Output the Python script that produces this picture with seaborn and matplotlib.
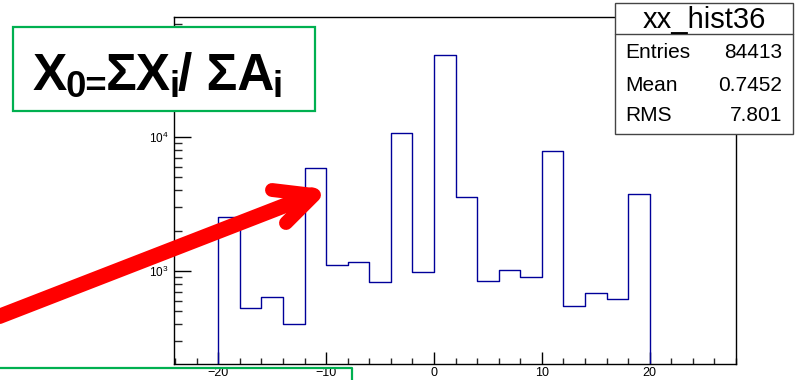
import numpy as np
import pandas as pd
import matplotlib
matplotlib.use("Agg")
import matplotlib.pyplot as plt
import seaborn as sns
from matplotlib.lines import Line2D
from matplotlib.patches import Rectangle
from matplotlib.ticker import MultipleLocator, LogLocator, NullFormatter

# ---- data -------------------------------------------------------------
bin_edges = [-20, -18, -16, -14, -12, -10, -8, -6, -4, -2, 0,
             2, 4, 6, 8, 10, 12, 14, 16, 18, 20]
bin_counts = [2540, 527, 637, 402, 5870, 1103, 1161, 832, 10700, 989,
              40900, 3550, 847, 1012, 897, 7820, 545, 682, 615, 3780]
hist_name = "xx_hist36"
stat_labels = ["Entries", "Mean", "RMS"]
stat_values = ["84413", "0.7452", "7.801"]
formula_parts = ["X", "0=", "\u03a3X", "i", "/ \u03a3A", "i"]
formula_is_sub = [False, True, False, True, False, True]

# ---- style ------------------------------------------------------------
sns.set_theme(style="white")
plt.rcParams["font.family"] = ["Liberation Sans", "DejaVu Sans"]

W, H = 796, 380
fx = lambda x: x / W
fy = lambda y: 1 - y / H

fig = plt.figure(figsize=(W / 100, H / 100), dpi=100)
fig.patch.set_facecolor("white")
ax = fig.add_axes([fx(174), fy(364), (736 - 174) / W, (364 - 17) / H])

centers = [(a + b) / 2 for a, b in zip(bin_edges[:-1], bin_edges[1:])]
df = pd.DataFrame({"x": centers, "n": bin_counts})
hist_color = "#000099"
sns.histplot(data=df, x="x", weights="n", bins=bin_edges, element="step",
             fill=False, color=hist_color, linewidth=1.0, ax=ax)
# outer vertical edges of the histogram outline
ax.vlines([bin_edges[0], bin_edges[-1]], 1, [bin_counts[0], bin_counts[-1]],
          color=hist_color, linewidth=1.0)
ax.set_yscale("log")
ax.set_xlim(-24.1, 28)
ax.set_ylim(202, 78700)
ax.set_xlabel("")
ax.set_ylabel("")

for s in ax.spines.values():
    s.set_color("black")
    s.set_linewidth(1.0)

ax.xaxis.set_major_locator(MultipleLocator(10))
ax.xaxis.set_minor_locator(MultipleLocator(2))
ax.yaxis.set_major_locator(LogLocator(base=10))
ax.yaxis.set_minor_locator(LogLocator(base=10, subs=np.arange(2, 10)))
ax.yaxis.set_minor_formatter(NullFormatter())
ax.tick_params(axis="x", which="major", direction="in", length=9, width=1,
               top=False, bottom=True, labelsize=9, pad=2.5, colors="black")
ax.tick_params(axis="x", which="minor", direction="in", length=4.5, width=1,
               top=False, bottom=True)
ax.tick_params(axis="y", which="major", direction="in", length=12, width=1,
               left=True, right=False, labelsize=8.5, pad=4, colors="black")
ax.tick_params(axis="y", which="minor", direction="in", length=6, width=1,
               left=True, right=False)
ax.grid(False)

# ---- stats box ----------------------------------------------------------
fig.add_artist(Rectangle((fx(615), fy(134)), (793 - 615) / W, (134 - 3) / H,
                         transform=fig.transFigure, facecolor="white",
                         edgecolor="#444444", linewidth=1.0, zorder=5))
fig.add_artist(Line2D([fx(615), fx(793)], [fy(34), fy(34)],
                      transform=fig.transFigure, color="#444444",
                      linewidth=1.0, zorder=6))
fig.text(fx(704), fy(20), hist_name, ha="center", va="center",
         fontsize=21, color="black", zorder=7)
row_y = [52.5, 85.5, 115.5]
for lab, val, yy in zip(stat_labels, stat_values, row_y):
    fig.text(fx(625), fy(yy), lab, ha="left", va="center", fontsize=15,
             color="black", zorder=7)
    fig.text(fx(782), fy(yy), val, ha="right", va="center", fontsize=15,
             color="black", zorder=7)

# ---- overlay annotations ------------------------------------------------
green = "#00b050"
fig.add_artist(Rectangle((fx(13), fy(111)), (315 - 13) / W, (111 - 27) / H,
                         transform=fig.transFigure, facecolor="white",
                         edgecolor=green, linewidth=1.6, zorder=8))

renderer = fig.canvas.get_renderer()


def place_formula(scale):
    x = 33.0
    made = []
    for txt, sub in zip(formula_parts, formula_is_sub):
        t = fig.text(fx(x), fy(97 if sub else 90), txt, ha="left",
                     va="baseline", fontsize=(27 if sub else 38) * scale,
                     fontweight="bold", color="black", zorder=9)
        bb = t.get_window_extent(renderer)
        x = bb.x1 - 1.5
        made.append(t)
    return made, x


parts, x_end = place_formula(1.0)
scale = (282 - 33) / (x_end - 33)
for t in parts:
    t.remove()
place_formula(scale)

fig.add_artist(Line2D([fx(-5), fx(352), fx(352)], [fy(368), fy(368), fy(385)],
                      transform=fig.transFigure, color=green, linewidth=1.6,
                      zorder=8))

red = "#ff0000"
fig.add_artist(Line2D([fx(-10), fx(312)], [fy(320), fy(195)],
                      transform=fig.transFigure, color=red, linewidth=11,
                      solid_capstyle="round", zorder=10))
fig.add_artist(Line2D([fx(272), fx(314), fx(286)], [fy(190), fy(195), fy(223)],
                      transform=fig.transFigure, color=red, linewidth=10,
                      solid_capstyle="round", solid_joinstyle="round",
                      zorder=10))

fig.savefig("out.png", dpi=100)
